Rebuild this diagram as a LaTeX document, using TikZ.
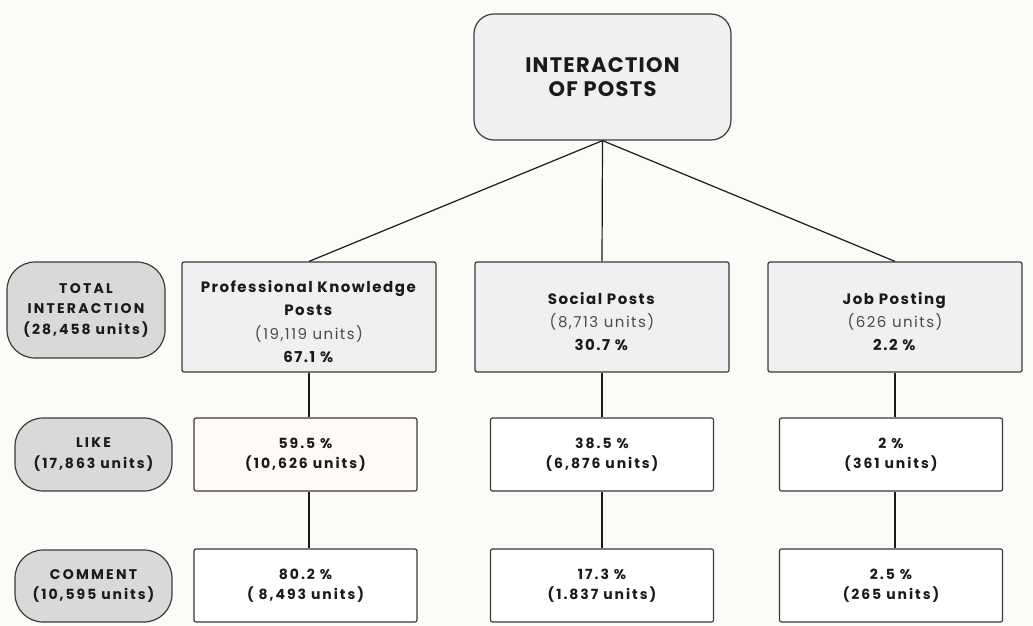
\documentclass[tikz,border=0pt]{standalone}
\usepackage{fontspec}
\setmainfont{Poppins}[LetterSpace=10]
\newfontfamily\capsfont{Poppins}[LetterSpace=16]
\newfontfamily\numfont{Poppins}[LetterSpace=14]
\newfontfamily\titlefont{Poppins}[LetterSpace=6]
\definecolor{bg}{HTML}{FDFBF8}
\definecolor{boxgray}{HTML}{EFF0F1}
\definecolor{pillgray}{HTML}{D9D9D9}
\definecolor{edge}{HTML}{3A3A3A}
\definecolor{ink}{HTML}{1A1A1A}
\definecolor{unitgray}{HTML}{4A4A4A}
\definecolor{pinkwhite}{HTML}{FFFAF8}
\begin{document}
\begin{tikzpicture}[x=1pt,y=-1pt,
  box/.style={draw=edge, line width=1.2pt, rounded corners=2pt, inner sep=0pt, align=center, text=ink},
  topbox/.style={box, fill=boxgray, rounded corners=20pt, minimum width=257pt, minimum height=126pt,
    font=\titlefont\bfseries\fontsize{21}{24}\selectfont},
  catbox/.style={box, fill=boxgray, minimum width=254pt, minimum height=110pt,
    font=\fontsize{15}{23.3}\selectfont},
  pill/.style={box, fill=pillgray, rounded corners=28pt, font=\numfont\bfseries\fontsize{14}{20.5}\selectfont},
  valbox/.style={box, fill=white, minimum width=223pt, minimum height=73pt,
    font=\numfont\bfseries\fontsize{14}{19.5}\selectfont},
  link/.style={draw=ink, line width=1.2pt}]
\fill[bg] (0,0) rectangle (1033,626);
\useasboundingbox (0,0) rectangle (1033,626);

\node[topbox] (top) at (602.5,77) {INTERACTION\\OF POSTS};

\node[catbox] (pk) at (309,317) {\rule{0pt}{21pt}\textbf{Professional Knowledge}\\\textbf{Posts}\\{\color{unitgray}(19,119 units)}\\\textbf{67.1 \%}};
\node[catbox] (sp) at (602,317) {\rule{0pt}{21pt}\textbf{Social Posts}\\{\color{unitgray}(8,713 units)}\\\textbf{30.7 \%}};
\node[catbox] (jp) at (895,317) {\rule{0pt}{21pt}\textbf{Job Posting}\\{\color{unitgray}(626 units)}\\\textbf{2.2 \%}};

\node[pill, minimum width=158pt, minimum height=96pt] (total) at (86,310) {{\capsfont TOTAL}\\{\capsfont INTERACTION}\\(28,458 units)};
\node[pill, minimum width=157pt, minimum height=73pt] (like) at (93.5,454.5) {{\capsfont LIKE}\\(17,863 units)};
\node[pill, minimum width=157pt, minimum height=72pt] (comment) at (93.5,586) {{\capsfont COMMENT}\\(10,595 units)};

\node[valbox, fill=pinkwhite] (pkl) at (305.5,454.5) {59.5 \%\\(10,626 units)};
\node[valbox] (spl) at (602,454.5) {38.5 \%\\(6,876 units)};
\node[valbox] (jpl) at (891,454.5) {2 \%\\(361 units)};

\node[valbox] (pkc) at (305.5,585.5) {80.2 \%\\( 8,493 units)};
\node[valbox] (spc) at (602,585.5) {17.3 \%\\(1.837 units)};
\node[valbox] (jpc) at (891,585.5) {2.5 \%\\(265 units)};

\draw[link] (top.south) -- (pk.north);
\draw[link] (top.south) -- (sp.north);
\draw[link] (top.south) -- (jp.north);

\draw[link] (pk.south) -- (pk.south |- pkl.north);
\draw[link] (sp.south) -- (sp.south |- spl.north);
\draw[link] (jp.south) -- (jp.south |- jpl.north);

\draw[link] (pk.south |- pkl.south) -- (pk.south |- pkc.north);
\draw[link] (sp.south |- spl.south) -- (sp.south |- spc.north);
\draw[link] (jp.south |- jpl.south) -- (jp.south |- jpc.north);
\end{tikzpicture}
\end{document}
